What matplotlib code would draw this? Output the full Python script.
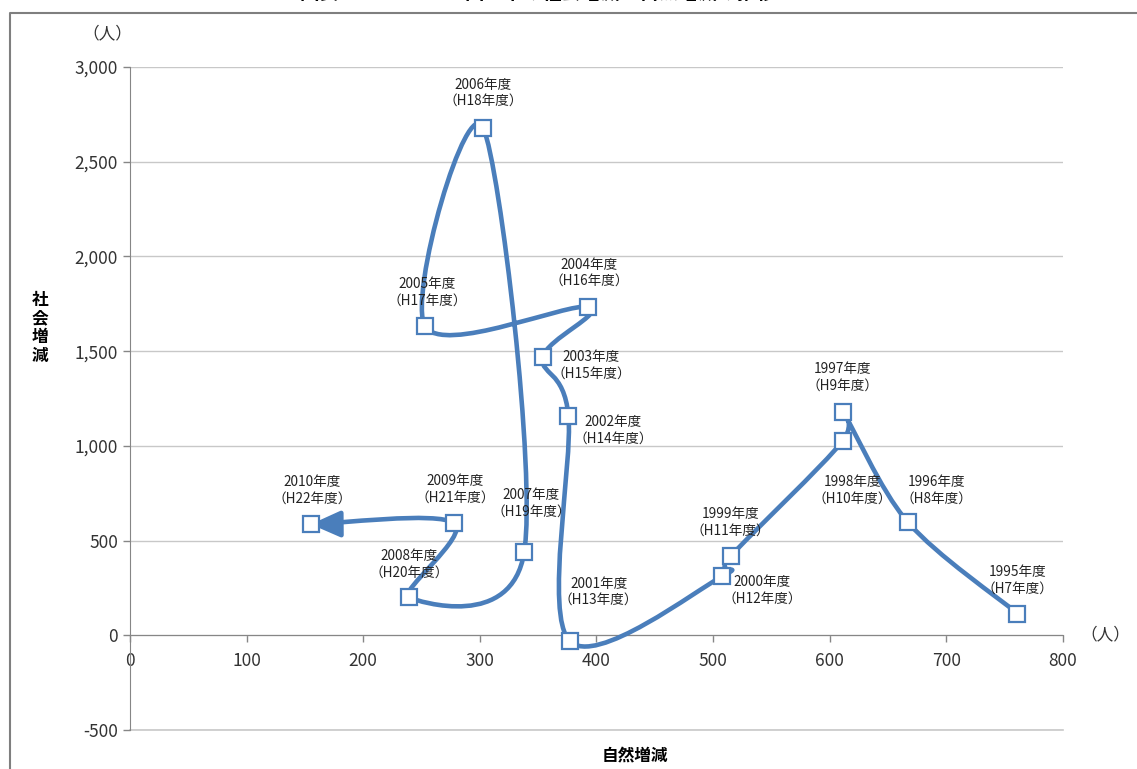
import matplotlib

matplotlib.use("Agg")
import matplotlib.pyplot as plt
import numpy as np
from matplotlib.lines import Line2D
from matplotlib.patches import PathPatch
from matplotlib.path import Path
from matplotlib.ticker import FuncFormatter, MultipleLocator

plt.rcParams["font.family"] = ["Noto Sans CJK JP", "DejaVu Sans"]

# fiscal years, 1995 -> 2010 (natural change on x, social change on y)
years = [1995, 1996, 1997, 1998, 1999, 2000, 2001, 2002,
         2003, 2004, 2005, 2006, 2007, 2008, 2009, 2010]
heisei = [7, 8, 9, 10, 11, 12, 13, 14, 15, 16, 17, 18, 19, 20, 21, 22]
natural = [761, 667, 611, 611, 515, 508, 377, 376,
           354, 393, 253, 303, 338, 239, 278, 155]
social = [115, 597, 1178, 1025, 417, 312, -30, 1157,
          1468, 1733, 1632, 2678, 438, 200, 592, 586]

# label offsets (pixels) from each marker
label_offsets = [(0, 33), (29, 32), (0, 35), (10, -49), (0, 34), (40, -14),
                 (29, 49), (45, -14), (48, -8), (1, 34), (2, 34), (0, 35),
                 (7, 49), (0, 33), (1, 34), (1, 34)]

BLUE = "#4a7ebb"


def smooth_path(xs, ys, t=1 / 6):
    pts = np.column_stack([xs, ys]).astype(float)
    n = len(pts)
    verts = [pts[0]]
    codes = [Path.MOVETO]
    for i in range(n - 1):
        p0 = pts[i - 1] if i > 0 else pts[i]
        p3 = pts[i + 2] if i + 2 < n else pts[i + 1]
        c1 = pts[i] + (pts[i + 1] - p0) * t
        c2 = pts[i + 1] - (p3 - pts[i]) * t
        verts += [c1, c2, pts[i + 1]]
        codes += [Path.CURVE4] * 3
    return Path(np.array(verts), codes), verts[-2]


fig = plt.figure(figsize=(11.37, 7.69), dpi=100)
ax = fig.add_axes([0.1143, 0.0507, 0.8206, 0.8622])

path, last_ctrl = smooth_path(natural, social)
ax.add_patch(PathPatch(path, facecolor="none", edgecolor=BLUE, lw=3.3,
                       capstyle="round", joinstyle="round", zorder=3))

# arrowhead on the final segment
end = np.array([natural[-1], social[-1]], dtype=float)
back = end + (np.array(last_ctrl) - end) * 0.6
ax.annotate("", xy=end, xytext=back,
            arrowprops=dict(arrowstyle="-|>,head_length=0.9,head_width=0.4",
                            mutation_scale=20, color=BLUE, lw=3.3,
                            shrinkA=0, shrinkB=0),
            zorder=3)

ax.plot(natural, social, ls="none", marker="s", ms=11.5, mfc="white",
        mec=BLUE, mew=1.6, zorder=4)

for x, y, yr, h, off in zip(natural, social, years, heisei, label_offsets):
    ax.annotate(f"{yr}年度\n（H{h}年度）", xy=(x, y), xytext=off,
                textcoords="offset pixels", ha="center", va="center",
                fontsize=9.8, color="#222222", linespacing=1.2, zorder=5)

ax.set_xlim(0, 800)
ax.set_ylim(-500, 3000)
ax.xaxis.set_major_locator(MultipleLocator(100))
ax.yaxis.set_major_locator(MultipleLocator(500))
ax.yaxis.set_major_formatter(FuncFormatter(lambda v, _: f"{v:,.0f}".replace("−", "-")))

ax.grid(True, axis="y", color="#c8c8c8", lw=1)
ax.axhline(-500, color="#c8c8c8", lw=1.2, clip_on=False, zorder=0)
ax.set_axisbelow(True)
for side in ("top", "right", "bottom"):
    ax.spines[side].set_visible(False)
ax.spines["left"].set_color("#868686")
ax.spines["bottom"].set_visible(True)
ax.spines["bottom"].set_position(("data", 0))
ax.spines["bottom"].set_color("#868686")
ax.tick_params(axis="both", colors="#868686", labelcolor="#333333",
               labelsize=12.5, length=5, width=1)
ax.tick_params(axis="x", pad=7)

ax.text(-0.024, 1.05, "（人）", transform=ax.transAxes, ha="center",
        va="center", fontsize=12, color="#333333")
ax.text(1.045, 0.1429, "（人）", transform=ax.transAxes, ha="center",
        va="center", fontsize=12, color="#333333")
fig.text(40 / 1137, 1 - 328 / 769, "社\n会\n増\n減", ha="center", va="center",
         fontsize=12, fontweight="bold", linespacing=1.05)
fig.text(635 / 1137, 1 - 755 / 769, "自然増減", ha="center", va="center",
         fontsize=12, fontweight="bold")

# page title, running off the top edge
fig.text(300 / 1137, 1 - 3 / 769, "図表", ha="left", va="bottom",
         fontsize=14, fontweight="bold")
fig.text(465 / 1137, 1 - 3 / 769, "国立市の社会増減と自然増減の推移", ha="left",
         va="bottom", fontsize=14, fontweight="bold")

# outer frame
fx, fy = 10 / 1137, 1 - 13 / 769
fig.add_artist(Line2D([fx, fx, 1.0], [0.0, fy, fy], transform=fig.transFigure,
                      color="#7f7f7f", lw=1.5))

fig.savefig("out.png", dpi=100)
